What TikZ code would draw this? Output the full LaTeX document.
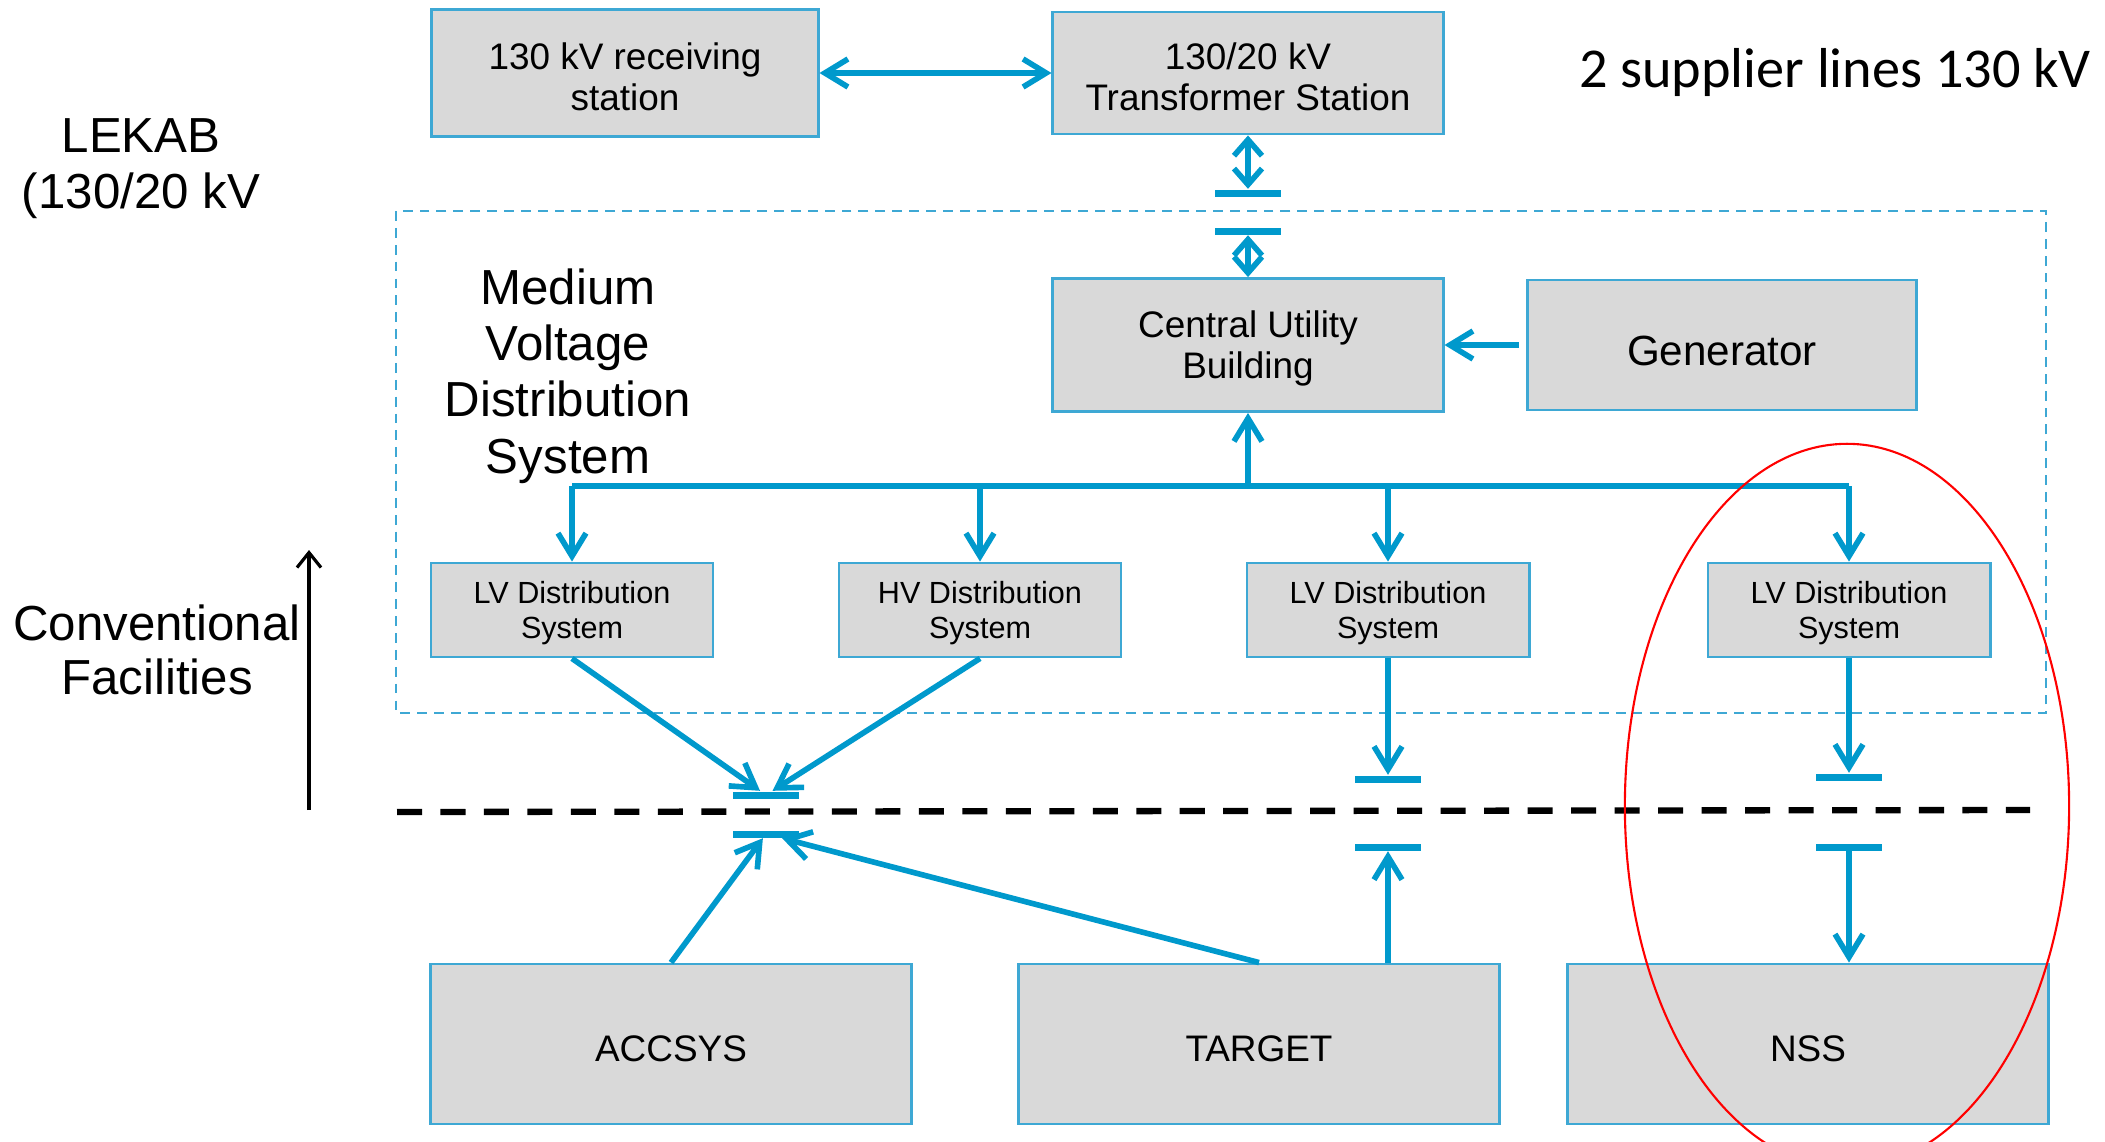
\documentclass[tikz,border=0pt]{standalone}
\usepackage{fontspec}
\setmainfont{Liberation Sans}
\newfontfamily\calibri{Carlito}
\usetikzlibrary{arrows.meta}
\definecolor{linkblue}{RGB}{0,153,204}
\definecolor{edgeblue}{RGB}{62,168,212}
\definecolor{boxgray}{RGB}{217,217,217}
\tikzset{
    barb/.tip={Straight Barb[length=2.3mm,width=2.8mm]},
    shortbarb/.tip={Straight Barb[length=1.6mm,width=2.8mm]}
}
\begin{document}
\begin{tikzpicture}[x=0.01cm,y=-0.01cm,
    box/.style={draw=edgeblue,line width=0.8pt,fill=boxgray,align=center,inner sep=0pt,
        text depth=0pt,font=\fontsize{10.5}{11.6}\selectfont},
    onebox/.style={box,execute at begin node={\rule{0pt}{0.95em}}},
    lvbox/.style={box,minimum width=2.82cm,minimum height=0.94cm,font=\fontsize{8.7}{10}\selectfont},
    sitebox/.style={onebox,minimum width=4.81cm,minimum height=1.6cm},
    bigtext/.style={align=center,inner sep=0pt,font=\fontsize{14}{16}\selectfont},
    bar/.style={fill=linkblue,inner sep=0pt,minimum width=0.66cm,minimum height=0.07cm},
    link/.style={draw=linkblue,line width=1.6pt,-barb},
    dlink/.style={draw=linkblue,line width=1.6pt,barb-barb},
    sdlink/.style={draw=linkblue,line width=1.6pt,shortbarb-shortbarb}]
    \useasboundingbox (0,0) rectangle (2105,1142);
    % LEKAB side
    \node[box,minimum width=3.86cm,minimum height=1.27cm] (recv) at (625,73) {\rule{0pt}{9.5pt}130 kV receiving\\station};
    \node[box,minimum width=3.9cm,minimum height=1.22cm] (trans) at (1248,73) {\rule{0pt}{9.5pt}130/20 kV\\Transformer Station};
    \node[bigtext] (lekab) at (141,169) {LEKAB\\(130/20 kV};
    \node[font=\calibri\fontsize{16}{19}\selectfont,inner sep=0pt] (supply) at (1835,72) {2 supplier lines 130 kV};
    \draw[dlink] (recv) -- (trans);
    % medium voltage system
    \draw[edgeblue,line width=0.8pt,dash pattern=on 2.8pt off 2pt] (396,211) rectangle (2046,713);
    \node[bigtext] (mvds) at (568,376) {Medium\\Voltage\\Distribution\\System};
    \node[bar] (tb1) at (1248,193) {};
    \node[bar] (tb2) at (1248,231) {};
    \node[box,minimum width=3.9cm,minimum height=1.33cm] (cub) at (1248,345) {Central Utility\\Building};
    \node[onebox,minimum width=3.89cm,minimum height=1.3cm,font=\fontsize{12}{14}\selectfont] (gen) at (1722,345) {Generator};
    \draw[sdlink] (trans) -- (tb1);
    \draw[sdlink] (tb2) -- (cub);
    \draw[link,shorten <=0.07cm] (gen) -- (cub);
    \node[lvbox] (lv1) at (572,610) {LV Distribution\\System};
    \node[lvbox] (hv) at (980,610) {HV Distribution\\System};
    \node[lvbox] (lv3) at (1388,610) {LV Distribution\\System};
    \node[lvbox] (lv4) at (1849,610) {LV Distribution\\System};
    % bus
    \coordinate (bus) at (1248,486);
    \draw[link] (bus) -- (cub);
    \draw[linkblue,line width=1.6pt] (lv1.north |- bus) -- (lv4.north |- bus);
    \foreach \n in {lv1,hv,lv3,lv4}
        \draw[link] (\n.north |- bus) -- (\n);
    % interface bars
    \node[bar] (mb1) at (766,795) {};
    \node[bar] (mb2) at (766,834) {};
    \node[bar] (pb1) at (1388,779) {};
    \node[bar] (pb2) at (1388,847) {};
    \node[bar] (qb1) at (1849,777) {};
    \node[bar] (qb2) at (1849,847) {};
    \draw[black,line width=1.8pt,dash pattern=on 0.25cm off 0.1846cm] (397,812) -- (2030,810);
    % conventional facilities
    \node[bigtext,font=\fontsize{14}{15.4}\selectfont] (conv) at (157,650) {Conventional\\Facilities};
    \coordinate (ca1) at (309,810);
    \coordinate (ca2) at (309,550);
    \draw[black,line width=0.9pt,-{Straight Barb[length=1.5mm,width=2.4mm]}] (ca1) -- (ca2);
    \node[sitebox] (acc) at (671,1044) {ACCSYS};
    \node[sitebox] (tgt) at (1259,1044) {TARGET};
    \node[sitebox] (nss) at (1808,1044) {NSS};
    \draw[link] (lv1.south) -- (mb1);
    \draw[link] (hv.south) -- (mb1);
    \draw[link] (acc.north) -- (mb2);
    \draw[link] (tgt.north) -- (mb2);
    \draw[link] (lv3) -- (pb1);
    \draw[link] (pb2 |- tgt.north) -- (pb2);
    \draw[link] (lv4) -- (qb1);
    \draw[link] (qb2) -- (qb2 |- nss.north);
    % NSS highlight
    \begin{scope}
        \clip (0,0) rectangle (2105,1142);
        \draw[red,line width=0.6pt] (1847,806) ellipse [x radius=2.22cm,y radius=3.62cm];
    \end{scope}
\end{tikzpicture}
\end{document}
